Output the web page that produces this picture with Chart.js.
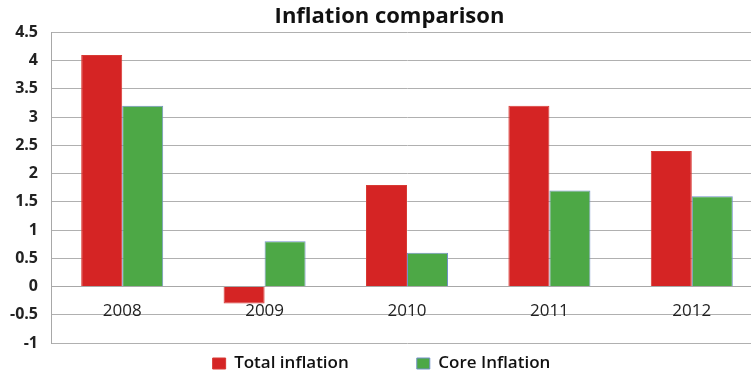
<!DOCTYPE html>
<html>
<head>
<meta charset="utf-8">
<title>Inflation comparison</title>
<script src="https://cdn.jsdelivr.net/npm/chart.js@4.4.1/dist/chart.umd.min.js"></script>
<style>
    html, body { margin: 0; padding: 0; overflow: hidden; background: #fff; }
    #wrap { width: 778px; height: 375px; position: relative; }
</style>
</head>
<body>
<div id="wrap"><canvas id="myChart"></canvas></div>
<script>
'use strict';

const years = ['2008', '2009', '2010', '2011', '2012'];
const totalInflation = [4.1, -0.3, 1.8, 3.2, 2.4];
const coreInflation = [3.2, 0.8, 0.6, 1.7, 1.6];
const yMin = -1;
const yMax = 4.5;
const yStep = 0.5;

Chart.defaults.font.family = "'Open Sans', sans-serif";
Chart.defaults.color = '#222';

// keep the wide gap between legend items without making the legend box tall,
// and nudge the title a little to the right
const legendSpacing = {
    id: 'legendSpacing',
    afterLayout(chart) {
        const legend = chart.legend;
        const gap = legend.options.labels.padding;
        legend.top = chart.chartArea.bottom + 12 - gap;
        if (chart.titleBlock) {
            chart.titleBlock.left += 8;
            chart.titleBlock.right += 8;
        }
    }
};

const ctx = document.getElementById('myChart').getContext('2d');

new Chart(ctx, {
    type: 'bar',
    data: {
        labels: years,
        datasets: [
            {
                label: 'Total inflation',
                data: totalInflation,
                backgroundColor: '#d52424',
                borderColor: '#d83a34',
                borderWidth: 1,
                categoryPercentage: 0.576,
                barPercentage: 1
            },
            {
                label: 'Core Inflation',
                data: coreInflation,
                backgroundColor: '#4da846',
                borderColor: '#7391c8',
                borderWidth: 1,
                categoryPercentage: 0.576,
                barPercentage: 1
            }
        ]
    },
    options: {
        responsive: true,
        maintainAspectRatio: false,
        animation: false,
        layout: {
            padding: { left: 0, right: 15, top: 0, bottom: 0 }
        },
        plugins: {
            title: {
                display: true,
                text: 'Inflation comparison',
                color: '#111',
                font: { size: 22, weight: 'bold' },
                padding: { top: 4, bottom: 2 }
            },
            legend: {
                position: 'bottom',
                maxHeight: 32,
                labels: {
                    boxWidth: 13,
                    boxHeight: 11,
                    padding: 68,
                    color: '#111',
                    font: { size: 17, weight: '600' }
                }
            },
            tooltip: { enabled: false }
        },
        scales: {
            x: {
                position: { y: 0 },
                offset: true,
                grid: { display: false, drawTicks: false },
                border: { display: true, color: '#a8a8a8' },
                ticks: { padding: 14, color: '#222', font: { size: 17 } }
            },
            y: {
                min: yMin,
                max: yMax,
                ticks: {
                    stepSize: yStep,
                    padding: 13,
                    color: '#222',
                    font: { size: 16, weight: 'bold' },
                    callback: (value) => String(Number(value.toFixed(1)))
                },
                grid: { color: '#b0b0b0', drawTicks: false },
                border: { color: '#a8a8a8' },
                afterFit(scale) {
                    scale.width = 51;
                }
            }
        }
    },
    plugins: [legendSpacing]
});
</script>
</body>
</html>
